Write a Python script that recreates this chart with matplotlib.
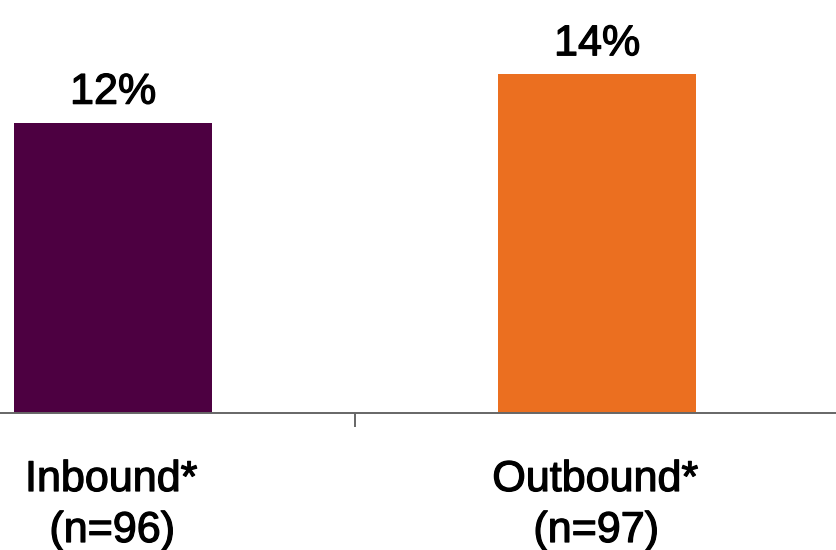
import matplotlib
matplotlib.use("Agg")
import matplotlib.pyplot as plt
import matplotlib.patheffects as pe

# Share of calls by direction
categories = ["Inbound*", "Outbound*"]
sample_sizes = ["(n=96)", "(n=97)"]
values = [12, 14]
value_labels = ["12%", "14%"]
colors = ["#4D0041", "#EB6F20"]

plt.rcParams["font.family"] = ["Liberation Sans", "DejaVu Sans"]

fig = plt.figure(figsize=(8.36, 5.5), dpi=100)
ax = fig.add_axes([0.0, 1 - 413 / 550, 1.0, 413 / 550])

x = list(range(len(categories)))
ax.bar(x, values, width=0.41, color=colors, zorder=2)

ax.set_xlim(-0.2335, 1.4938)
ax.set_ylim(0, 17.07)

for spine in ["top", "right", "left"]:
    ax.spines[spine].set_visible(False)
ax.spines["bottom"].set_color("#666666")
ax.spines["bottom"].set_linewidth(1.4)

ax.set_yticks([])
ax.set_xticks([0.5])
ax.set_xticklabels([""])
ax.tick_params(axis="x", direction="out", length=10, width=1.4, color="#666666")

# slightly heavier strokes for all labels
heavy = [pe.withStroke(linewidth=0.9, foreground="black")]

# value labels above each bar
for xi, v, lab in zip(x, values, value_labels):
    ax.annotate(lab, xy=(xi, v), xytext=(0, 19), textcoords="offset pixels",
                ha="center", va="baseline", fontsize=31, color="black",
                path_effects=heavy)

# category labels below the axis
for xi, cat, n in zip(x, categories, sample_sizes):
    ax.annotate(cat, xy=(xi, 0), xycoords=("data", "axes fraction"),
                xytext=(-2, -78), textcoords="offset pixels",
                ha="center", va="baseline", fontsize=31, color="black",
                path_effects=heavy, annotation_clip=False)
    ax.annotate(n, xy=(xi, 0), xycoords=("data", "axes fraction"),
                xytext=(-1, -129), textcoords="offset pixels",
                ha="center", va="baseline", fontsize=31, color="black",
                path_effects=heavy, annotation_clip=False)

fig.savefig("out.png", dpi=100)
